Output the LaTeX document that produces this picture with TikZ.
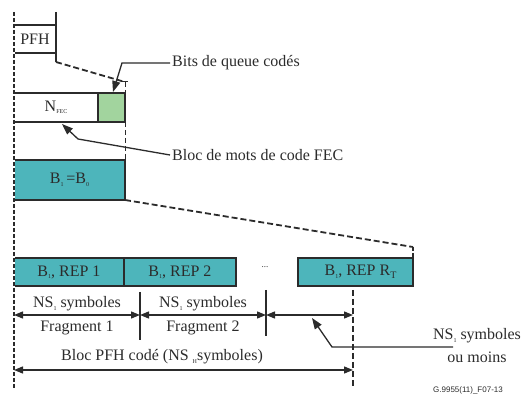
\documentclass[tikz,border=0pt]{standalone}
\usepackage{fontspec}
\setmainfont{Liberation Serif}
\newfontfamily\labelsans{Liberation Sans}
\usetikzlibrary{arrows.meta}
\definecolor{teal1}{HTML}{4DB5BB}
\definecolor{green1}{HTML}{A2D49E}
\definecolor{linec}{HTML}{2B2B2B}
\newcommand{\sbs}[1]{\raisebox{-2.5pt}{\fontsize{6}{7}\selectfont #1}}
\begin{document}
\begin{tikzpicture}[x=1pt,y=-1pt,
  box/.style={draw=linec, line width=1.3pt, inner sep=0pt, text=linec, font=\fontsize{16}{18}\selectfont},
  txt/.style={inner sep=2pt, text=linec, font=\fontsize{16}{18}\selectfont},
  dim/.style={draw=linec, line width=1.3pt, {Triangle[length=9pt,width=7pt]}-{Triangle[length=9pt,width=7pt]}},
  tick/.style={draw=linec, line width=1.3pt},
  dashln/.style={draw=linec, line width=1.8pt, dash pattern=on 6pt off 3pt},
  callout/.style={draw=linec, line width=1.3pt, -{Triangle[length=11pt,width=8pt]}},
  plain/.style={draw=linec, line width=1.3pt}]
\useasboundingbox (0,0) rectangle (523,403);

% boxes
\node[box, minimum width=42pt, minimum height=28pt] (pfh) at (35,39) {PFH};
\node[box, fill=white, minimum width=84pt, minimum height=29pt] (nfec) at (56,107.5) {N\sbs{FEC}};
\node[box, fill=green1, minimum width=27pt, minimum height=29pt] (tail) at (111.5,107.5) {};
\node[box, fill=teal1, minimum width=111pt, minimum height=40pt] (b1) at (69.5,180) {B\sbs{1}\,=B\sbs{0}};
\node[box, fill=teal1, minimum width=110pt, minimum height=28pt] (rep1) at (69,272) {B\sbs{1}, REP 1};
\node[box, fill=teal1, minimum width=112pt, minimum height=28pt] (rep2) at (180,272) {B\sbs{1}, REP 2};
\node[box, fill=teal1, minimum width=115pt, minimum height=28pt] (rep3) at (355.5,272) {\hspace*{10pt}B\sbs{1}, REP R\raisebox{-3pt}{\fontsize{10}{10}\selectfont T}};
\node[txt] (dots) at (265,267) {\fontsize{9}{9}\selectfont ...};

% coordinates
\coordinate (ltop) at (14,12);
\coordinate (lbot) at (14,388);
\coordinate (ptop) at (56,12);
\coordinate (pbot) at (56,62);
\coordinate (tk) at (125,82);
\coordinate (tkl) at (122,82);
\coordinate (tkr) at (128,82);
\coordinate (bb) at (125,200);
\coordinate (rt) at (413,247);
\coordinate (rb) at (413,287);
\coordinate (d0) at (14,315);
\coordinate (d1) at (140,315);
\coordinate (d2) at (266,315);
\coordinate (d3) at (353,315);
\coordinate (t1a) at (140,292);
\coordinate (t1b) at (140,340);
\coordinate (t2a) at (266,290);
\coordinate (t2b) at (266,336);
\coordinate (t3a) at (353,290);
\coordinate (t3b) at (353,388);
\coordinate (e0) at (14,370);
\coordinate (e1) at (353,370);

% left dashed line
\draw[white, line width=2pt] (ltop) -- (lbot);
\draw[linec, line width=2pt, dash pattern=on 4pt off 2pt] (ltop) -- (lbot);

% PFH right edge and expansion dashed lines
\draw[plain] (ptop) -- (pbot);
\draw[dashln] (pbot) -- (tk);
\draw[linec, line width=1pt, dash pattern=on 5pt off 3pt] (tk) -- (bb);
\draw[plain, line width=1pt] (tkl) -- (tkr);
\draw[dashln] (bb) -- (rt);
\draw[linec, line width=1.8pt, dash pattern=on 4pt off 2pt] (rt) -- (rb);

% dimension lines
\draw[tick] (t1a) -- (t1b);
\draw[tick] (t2a) -- (t2b);
\draw[linec, line width=1.5pt, dash pattern=on 6pt off 3pt] (t3a) -- (t3b);
\draw[dim] (d0) -- (d1);
\draw[dim] (d1) -- (d2);
\draw[dim] (d2) -- (d3);
\draw[dim] (e0) -- (e1);

% labels
\node[txt] (ns1) at (77,304) {NS\sbs{1} symboles};
\node[txt] (fr1) at (77,328) {Fragment 1};
\node[txt] (ns2) at (203,304) {NS\sbs{1} symboles};
\node[txt] (fr2) at (203,328) {Fragment 2};
\node[txt] (bloc) at (162,357) {Bloc PFH codé (NS \sbs{H}symboles)};
\node[txt] (ns3) at (477,336) {NS\sbs{1} symboles};
\node[txt] (moins) at (477,357) {ou moins};
\node[txt, anchor=west] (bits) at (170,63) {Bits de queue codés};
\node[txt, anchor=west] (fecl) at (170,155) {Bloc de mots de code FEC};
\node[inner sep=0pt, text=linec, font=\labelsans\fontsize{8}{9}\selectfont] (fig) at (468,390) {G.9955(11)\_F07-13};

% callouts
\coordinate (bA) at (122,63);
\coordinate (bT) at (113,92);
\draw[callout] (bits.west) -- (bA) -- (bT);
\coordinate (fA) at (78,139);
\coordinate (fT) at (62,124);
\draw[callout] (fecl.west) -- (fA) -- (fT);
\coordinate (mA) at (453,347);
\coordinate (mB) at (332,347);
\coordinate (mT) at (312,318);
\draw[callout] (mA) -- (mB) -- (mT);
\end{tikzpicture}
\end{document}
